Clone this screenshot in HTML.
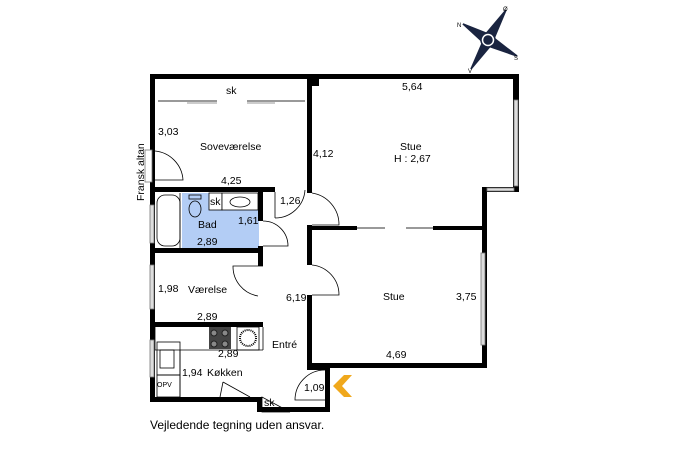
<!DOCTYPE html>
<html><head><meta charset="utf-8"><style>
html,body{margin:0;padding:0;background:#fff;}
svg{display:block;}
text{font-family:"Liberation Sans",sans-serif;font-size:10.5px;fill:#000;}
</style></head><body>
<svg width="687" height="457" viewBox="0 0 687 457" xmlns="http://www.w3.org/2000/svg">
<rect x="0" y="0" width="687" height="457" fill="#fff"/>
<rect x="182" y="193" width="77" height="55" fill="#b3cdf5"/>
<rect x="209" y="193" width="13" height="17" fill="#fff" stroke="#000" stroke-width="0.8"/>
<rect x="222" y="193" width="36" height="17" fill="#fff" stroke="#000" stroke-width="0.8"/>
<g fill="#000">
<rect x="150" y="74" width="369" height="5"/>
<rect x="307" y="74" width="12" height="12"/>
<rect x="150" y="74" width="5" height="328"/>
<rect x="513" y="74" width="6" height="118"/>
<rect x="482" y="187" width="37" height="5"/>
<rect x="482" y="187" width="5" height="181"/>
<rect x="307" y="363" width="180" height="5"/>
<rect x="307" y="74" width="5" height="119"/>
<rect x="307" y="225" width="5" height="40"/>
<rect x="307" y="295" width="5" height="73"/>
<rect x="307" y="226" width="50" height="4"/>
<rect x="433" y="226" width="52" height="4"/>
<rect x="150" y="187" width="125" height="5"/>
<rect x="258" y="187" width="5" height="34"/>
<rect x="258" y="246" width="5" height="20"/>
<rect x="150" y="248" width="113" height="5"/>
<rect x="150" y="322" width="113" height="5"/>
<rect x="150" y="397" width="112" height="5"/>
<rect x="257" y="397" width="5" height="15"/>
<rect x="257" y="407" width="73" height="5"/>
<rect x="325" y="368" width="5" height="44"/>
<rect x="307" y="365" width="23" height="5"/>
</g>
<g stroke="#000" stroke-width="0.8" fill="none">
<line x1="275" y1="192" x2="275" y2="218"/>
<line x1="180" y1="193" x2="180" y2="248"/>
<rect x="157" y="195" width="23" height="51" rx="8"/>
<ellipse cx="195" cy="209" rx="6" ry="8"/>
<rect x="189" y="195" width="12" height="4"/>
<ellipse cx="240" cy="202" rx="10" ry="5"/>
<polyline points="155,327 155,350 180,350 180,397"/>
<line x1="180" y1="350" x2="263" y2="350"/>
<line x1="263" y1="327" x2="263" y2="350"/>
<rect x="157" y="342" width="23" height="33"/>
<rect x="157" y="375" width="23" height="22"/>
<rect x="237" y="327" width="22" height="23"/>
<path d="M155,151 A31,31 0 0 1 183,180 L155,180"/>
<path d="M275,218 A30,30 0 0 0 305,190"/>
<path d="M312,193 A32,32 0 0 1 339,225 L312,225"/>
<path d="M263,221 A25,25 0 0 1 288,246 L263,246"/>
<path d="M263,266 L233,266 A30,30 0 0 0 258,296"/>
<path d="M312,265 A30,30 0 0 1 339,295 L312,295"/>
<path d="M223,382 L250,397"/>
<path d="M223,382 L220,397"/>
<path d="M262,397 L262,412 L290,412 Z"/>
<path d="M325,370 A30,30 0 0 0 295,400 L325,400"/>
</g>
<g stroke="#999" stroke-width="2">
<line x1="158" y1="101" x2="217" y2="101"/>
<line x1="187" y1="103" x2="217" y2="103" stroke-width="1"/>
<line x1="247" y1="101" x2="305" y2="101"/>
<line x1="247" y1="103" x2="275" y2="103" stroke-width="1"/>
<line x1="357" y1="228" x2="385" y2="228"/>
<line x1="406" y1="228" x2="433" y2="228"/>
</g>
<g fill="#ddd" stroke="#777" stroke-width="0.8">
<rect x="514" y="100" width="4" height="86"/>
<rect x="487" y="188" width="27" height="3"/>
<rect x="481" y="253" width="4" height="92"/>
<rect x="145" y="150" width="7" height="32" fill="#fff"/>
<rect x="150" y="205" width="4" height="38"/>
<rect x="150" y="265" width="4" height="44"/>
<rect x="150" y="340" width="4" height="37"/>
</g>
<rect x="209" y="327" width="22" height="22" fill="#444"/>
<g fill="#888" stroke="#222"><circle cx="214" cy="333" r="3"/><circle cx="225" cy="333" r="3"/><circle cx="214" cy="344" r="3"/><circle cx="225" cy="344" r="3"/></g>
<circle cx="248" cy="338" r="8" fill="none" stroke="#000" stroke-width="2" stroke-dasharray="1 1"/>
<rect x="160" y="350" width="14" height="18" fill="none" stroke="#000" stroke-width="0.8"/>
<polygon points="352,375 342,386 352,397 344,397 333,386 344,375" fill="#f0a81c"/>
<g stroke="#1a2440" stroke-width="1.5" fill="#1a2440">
<line x1="463" y1="24" x2="517" y2="56"/>
<line x1="506" y1="10" x2="471" y2="69"/>
<polygon points="463,24 491,35 486,45"/>
<polygon points="506,10 493,41 484,36"/>
<polygon points="517,56 485,45 490,35"/>
<polygon points="471,69 484,39 492,44"/>
<circle cx="488" cy="40" r="7" fill="#fff"/>
<circle cx="488" cy="40" r="4"/>
</g>
<text x="457" y="27" style="font-size:6px">N</text>
<text x="503" y="11" style="font-size:6px">Ø</text>
<text x="514" y="60" style="font-size:6px">S</text>
<text x="468" y="73" style="font-size:6px">V</text>
<text x="226" y="94">sk</text>
<text x="200" y="150">Soveværelse</text>
<text x="158" y="135">3,03</text>
<text x="221" y="184">4,25</text>
<text x="313" y="157">4,12</text>
<text x="280" y="204">1,26</text>
<text x="210" y="205">sk</text>
<text x="198" y="228">Bad</text>
<text x="238" y="224">1,61</text>
<text x="197" y="245">2,89</text>
<text x="158" y="292">1,98</text>
<text x="188" y="293">Værelse</text>
<text x="197" y="320">2,89</text>
<text x="218" y="357">2,89</text>
<text x="272" y="348">Entré</text>
<text x="182" y="376">1,94</text>
<text x="207" y="376">Køkken</text>
<text x="157" y="387" style="font-size:7px">OPV</text>
<text x="264" y="406">sk</text>
<text x="304" y="391">1,09</text>
<text x="286" y="301">6,19</text>
<text x="402" y="90">5,64</text>
<text x="400" y="150">Stue</text>
<text x="394" y="162">H : 2,67</text>
<text x="383" y="300">Stue</text>
<text x="456" y="300">3,75</text>
<text x="386" y="358">4,69</text>
<text x="144" y="201" transform="rotate(-90 144 201)">Fransk altan</text>
<text x="150" y="429" style="font-size:12px">Vejledende tegning uden ansvar.</text>
</svg>
</body></html>
